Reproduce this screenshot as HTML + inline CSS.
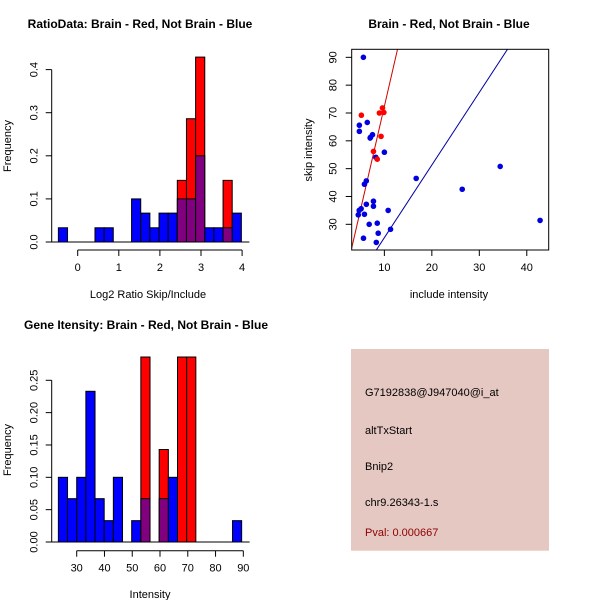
<!DOCTYPE html>
<html><head><meta charset="utf-8"><style>
body{margin:0;background:#fff}
svg{display:block;font-family:"Liberation Sans",sans-serif}
</style></head><body>
<svg id="c" width="600" height="600" viewBox="0 0 600 600"></svg>
<script>
// ---- data ----
const ratioBlue=[0.033,0,0,0,0.033,0.033,0,0,0.1,0.067,0.033,0.067,0.067,0.1,0.1,0.2,0.033,0.033,0.033,0.067];
const ratioRed=[0,0,0,0,0,0,0,0,0,0,0,0,0,0.143,0.286,0.429,0,0,0.143,0];
const ratioMin=-0.47, ratioBinW=0.2226;
const ratioTicksY=[0,0.1,0.2,0.3,0.4];
const ratioTicksX=[0,1,2,3,4];
const intBlue=[0.1,0.067,0.1,0.233,0.067,0.033,0.1,0,0.033,0.067,0,0.067,0.1,0,0,0,0,0,0,0.033];
const intRed=[0,0,0,0,0,0,0,0,0,0.286,0,0.143,0,0.286,0.286,0,0,0,0,0];
const intMin=23.4, intBinW=3.3;
const intTicksY=[0,0.05,0.1,0.15,0.2,0.25];
const intTicksX=[30,40,50,60,70,80,90];
const blueX=[5.58,4.73,4.73,6.4,7.1,7.5,7.0,8.2,10,5.8,6.2,16.7,26.4,34.4,42.8,7.7,7.7,6.2,10.8,4.7,5.1,4.5,5.8,6.8,8.5,11.3,8.7,5.6,8.3];
const blueY=[90,65.6,63.4,66.6,61.3,62.2,61,54.1,55.9,44.4,45.6,46.5,42.6,50.8,31.4,38.3,36.5,37.2,35,35,35.6,33.4,33.6,30,30.4,28.2,26.8,25,23.5];
const redX=[5.15,9.6,8.95,9.9,9.3,7.7,8.5];
const redY=[69.2,71.8,70,70.2,61.6,56.2,53.4];
const redLine=[-1.6,7.4];   // intercept, slope
const blueLine=[-0.9,2.61];
const scTicksX=[10,20,30,40];
const scTicksY=[30,40,50,60,70,80,90];

const svg=document.getElementById('c');
const NS='http://www.w3.org/2000/svg';
function el(t,a,txt){const e=document.createElementNS(NS,t);for(const k in a)e.setAttribute(k,a[k]);if(txt!==undefined)e.textContent=txt;svg.appendChild(e);return e;}

function hist(pfx,blue,red,min,bw,tx,ty,X,Y,axY,axYx,tfmt){
  el('line',{x1:X(min)-8,x2:X(min+bw*blue.length)+8,y1:Y(0),y2:Y(0),stroke:'#000'});
  for(let i=0;i<blue.length;i++){
    const x0=X(min+i*bw),x1=X(min+(i+1)*bw);
    const b=blue[i],r=red[i];
    if(r>0){const e=el('rect',{x:x0,y:Y(r),width:x1-x0,height:Y(0)-Y(r),fill:'#ff0000',stroke:'#000','stroke-width':1});
      }
    if(b>0){const e=el('rect',{x:x0,y:Y(b),width:x1-x0,height:Y(0)-Y(b),fill:r>0?'#800080':'#0000ff',stroke:'#000','stroke-width':1});
      }
  }
  const t0=ty[0],t1=ty[ty.length-1];
  el('line',{x1:axYx,x2:axYx,y1:Y(t0),y2:Y(t1),stroke:'#000'});
  ty.forEach(v=>{el('line',{x1:axYx-6,x2:axYx,y1:Y(v),y2:Y(v),stroke:'#000'});
    const t=el('text',{x:0,y:0,'font-size':11,'text-anchor':'middle',transform:`translate(${axYx-14},${Y(v)}) rotate(-90)`},tfmt(v));
    });
  el('line',{x1:X(tx[0]),x2:X(tx[tx.length-1]),y1:axY,y2:axY,stroke:'#000'});
  tx.forEach(v=>{el('line',{x1:X(v),x2:X(v),y1:axY,y2:axY+6,stroke:'#000'});
    const t=el('text',{x:X(v),y:axY+21,'font-size':11,'text-anchor':'middle'},String(v));
    });
}
// top-left
{const X=v=>77.7+(v)*41.1, Y=v=>242-v*431;
 hist('ratio',ratioBlue,ratioRed,ratioMin,ratioBinW,ratioTicksX,ratioTicksY,X,Y,250,51.7,v=>v.toFixed(1));
 let t=el('text',{x:140,y:28,'font-size':12,'font-weight':'bold','text-anchor':'middle'},'RatioData: Brain - Red, Not Brain - Blue');
 t=el('text',{x:148,y:298,'font-size':11,'text-anchor':'middle'},'Log2 Ratio Skip/Include');
 t=el('text',{x:0,y:0,'font-size':11,'text-anchor':'middle',transform:'translate(11,146) rotate(-90)'},'Frequency');}
// bottom-left
{const X=v=>76.7+(v-30)*2.777, Y=v=>542-v*646.8;
 hist('intensity',intBlue,intRed,intMin,intBinW,intTicksX,intTicksY,X,Y,550.7,51.7,v=>v.toFixed(2));
 let t=el('text',{x:146,y:329,'font-size':12,'font-weight':'bold','text-anchor':'middle'},'Gene Itensity: Brain - Red, Not Brain - Blue');
 t=el('text',{x:150,y:598,'font-size':11,'text-anchor':'middle'},'Intensity');
 t=el('text',{x:0,y:0,'font-size':11,'text-anchor':'middle',transform:'translate(11,450) rotate(-90)'},'Frequency');}
// scatter
{const X=v=>336.9+v*4.747, Y=v=>307.8-v*2.783;
 const L=351.7,R=548.7,T=49.3,B=250;
 const defs=el('defs',{});const cp=document.createElementNS(NS,'clipPath');cp.setAttribute('id','clp');
 const cr=document.createElementNS(NS,'rect');cr.setAttribute('x',L);cr.setAttribute('y',T);cr.setAttribute('width',R-L);cr.setAttribute('height',B-T);cp.appendChild(cr);defs.appendChild(cp);
 const g=el('g',{'clip-path':'url(#clp)'});
 function add(t,a){const e=document.createElementNS(NS,t);for(const k in a)e.setAttribute(k,a[k]);g.appendChild(e);return e;}
 const xa=0,xb=50;
 let ln=add('line',{x1:X(xa),y1:Y(redLine[0]+redLine[1]*xa),x2:X(xb),y2:Y(redLine[0]+redLine[1]*xb),stroke:'#d00000'});
 
 ln=add('line',{x1:X(xa),y1:Y(blueLine[0]+blueLine[1]*xa),x2:X(xb),y2:Y(blueLine[0]+blueLine[1]*xb),stroke:'#0000a0'});
 
 blueX.forEach((x,i)=>{const c=add('circle',{cx:X(x),cy:Y(blueY[i]),r:2.8,fill:'#0000e0'});
   });
 redX.forEach((x,i)=>{const c=add('circle',{cx:X(x),cy:Y(redY[i]),r:2.8,fill:'#ff0000'});
   });
 el('rect',{x:L,y:T,width:R-L,height:B-T,fill:'none',stroke:'#000'});
 scTicksX.forEach(v=>{el('line',{x1:X(v),x2:X(v),y1:B,y2:B+6,stroke:'#000'});
   const t=el('text',{x:X(v),y:B+21,'font-size':11,'text-anchor':'middle'},String(v));});
 scTicksY.forEach(v=>{el('line',{x1:L-6,x2:L,y1:Y(v),y2:Y(v),stroke:'#000'});
   const t=el('text',{x:0,y:0,'font-size':11,'text-anchor':'middle',transform:`translate(${L-15},${Y(v)}) rotate(-90)`},String(v));});
 let t=el('text',{x:449,y:28,'font-size':12,'font-weight':'bold','text-anchor':'middle'},'Brain - Red, Not Brain - Blue');
 t=el('text',{x:449,y:298,'font-size':11,'text-anchor':'middle'},'include intensity');
 t=el('text',{x:0,y:0,'font-size':11,'text-anchor':'middle',transform:'translate(312,150) rotate(-90)'},'skip intensity');}
// info box
{let r=el('rect',{x:351,y:349,width:198,height:201.7,fill:'#e6c8c2'});
 const lines=[['G7192838@J947040@i_at',396,'#000','probe-id'],['altTxStart',434,'#000','event-type'],['Bnip2',470,'#000','gene-name'],['chr9.26343-1.s',506,'#000','locus'],['Pval: 0.000667',536,'#8b0000','p-value']];
 lines.forEach(l=>{const t=el('text',{x:365,y:l[1],'font-size':11,fill:l[2]},l[0]);});}
</script>
</body></html>
